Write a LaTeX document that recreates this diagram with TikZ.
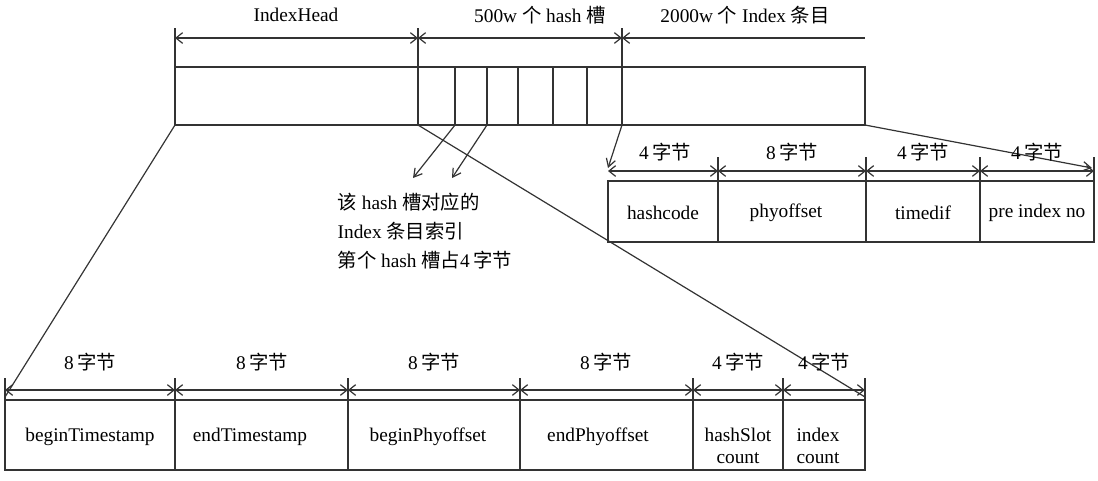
\documentclass[tikz,border=0pt]{standalone}
\usepackage{fontspec}
\setmainfont{Liberation Serif}
\newfontfamily\cjk{Noto Sans CJK SC}
\usetikzlibrary{arrows.meta}
\tikzset{ln/.style={line width=0.9pt,black!80},
dim/.style={ln,{Straight Barb[length=5pt,width=8pt]}-{Straight Barb[length=5pt,width=8pt]}},
pt/.style={ln,-{Straight Barb[length=6pt,width=7pt]}},
lab/.style={font=\fontsize{14.5}{17}\selectfont},
cell/.style={font=\fontsize{14.5}{16}\selectfont,align=center}}
\newcommand{\zj}{\,{\cjk 字节}}
\begin{document}
\begin{tikzpicture}[x=0.75pt,y=-0.75pt]
\useasboundingbox (0,0) rectangle (1098,480);
% top bar
\draw[ln] (175,67) rectangle (865,125);
\foreach \x in {418,455,487,518,553,587} \draw[ln] (\x,67)--(\x,125);
\draw[ln] (175,28)--(175,67) (418,28)--(418,67) (622,28)--(622,125);
\coordinate (a0) at (175,38); \coordinate (a1) at (418,38);
\coordinate (a2) at (622,38); \coordinate (a3) at (865,38);
\draw[dim] (a0)--(a1); \draw[dim] (a1)--(a2);
\draw[ln,{Straight Barb[length=5pt,width=8pt]}-] (a2)--(a3);
\node[lab] at (296,15) {IndexHead};
\node[lab] at (540,15) {500w {\cjk 个} hash {\cjk 槽}};
\node[lab] at (745,15) {2000w {\cjk 个} Index {\cjk 条目}};
% zoom lines
\coordinate (b0) at (175,125); \coordinate (b1) at (418,125);
\coordinate (b2) at (622,125); \coordinate (b3) at (865,125);
\coordinate (s1) at (455,125); \coordinate (s2) at (487,125);
\draw[ln] (b0)--(5,397);
\draw[ln] (b1)--(865,397);
\draw[pt] (b2)--(608,168);
\draw[pt] (b3)--(1092,168);
\draw[pt] (s1)--(413,178);
\draw[pt] (s2)--(452,178);
\node[lab,anchor=west,align=left] at (333,231) {{\cjk 该} hash {\cjk 槽对应的}\\[5pt]Index {\cjk 条目索引}\\[5pt]{\cjk 第个} hash {\cjk 槽占}4\zj};
% right table
\draw[ln] (608,181) rectangle (1094,242);
\foreach \x/\y in {608/181,718/157,866/157,980/157,1094/157} \draw[ln] (\x,\y)--(\x,242);
\draw[dim] (608,171)--(718,171); \draw[dim] (718,171)--(866,171);
\draw[dim] (866,171)--(980,171); \draw[dim] (980,171)--(1094,171);
\node[lab] at (665,152) {4\zj}; \node[lab] at (792,152) {8\zj};
\node[lab] at (923,152) {4\zj}; \node[lab] at (1037,152) {4\zj};
\node[cell] at (663,213) {hashcode}; \node[cell] at (786,213) {phyoffset};
\node[cell] at (923,213) {timedif}; \node[cell] at (1037,213) {pre index no};
% bottom table
\draw[ln] (5,400) rectangle (865,470);
\foreach \x in {5,175,348,520,693,783,865} \draw[ln] (\x,378)--(\x,470);
\draw[dim] (5,390)--(175,390); \draw[dim] (175,390)--(348,390);
\draw[dim] (348,390)--(520,390); \draw[dim] (520,390)--(693,390);
\draw[dim] (693,390)--(783,390); \draw[dim] (783,390)--(865,390);
\node[lab] at (90,362) {8\zj}; \node[lab] at (262,362) {8\zj};
\node[lab] at (434,362) {8\zj}; \node[lab] at (606,362) {8\zj};
\node[lab] at (738,362) {4\zj}; \node[lab] at (824,362) {4\zj};
\node[cell] at (90,437) {beginTimestamp}; \node[cell] at (250,437) {endTimestamp};
\node[cell] at (428,437) {beginPhyoffset}; \node[cell] at (598,437) {endPhyoffset};
\node[cell] at (738,446) {hashSlot\\count}; \node[cell] at (818,446) {index\\count};
\end{tikzpicture}
\end{document}
